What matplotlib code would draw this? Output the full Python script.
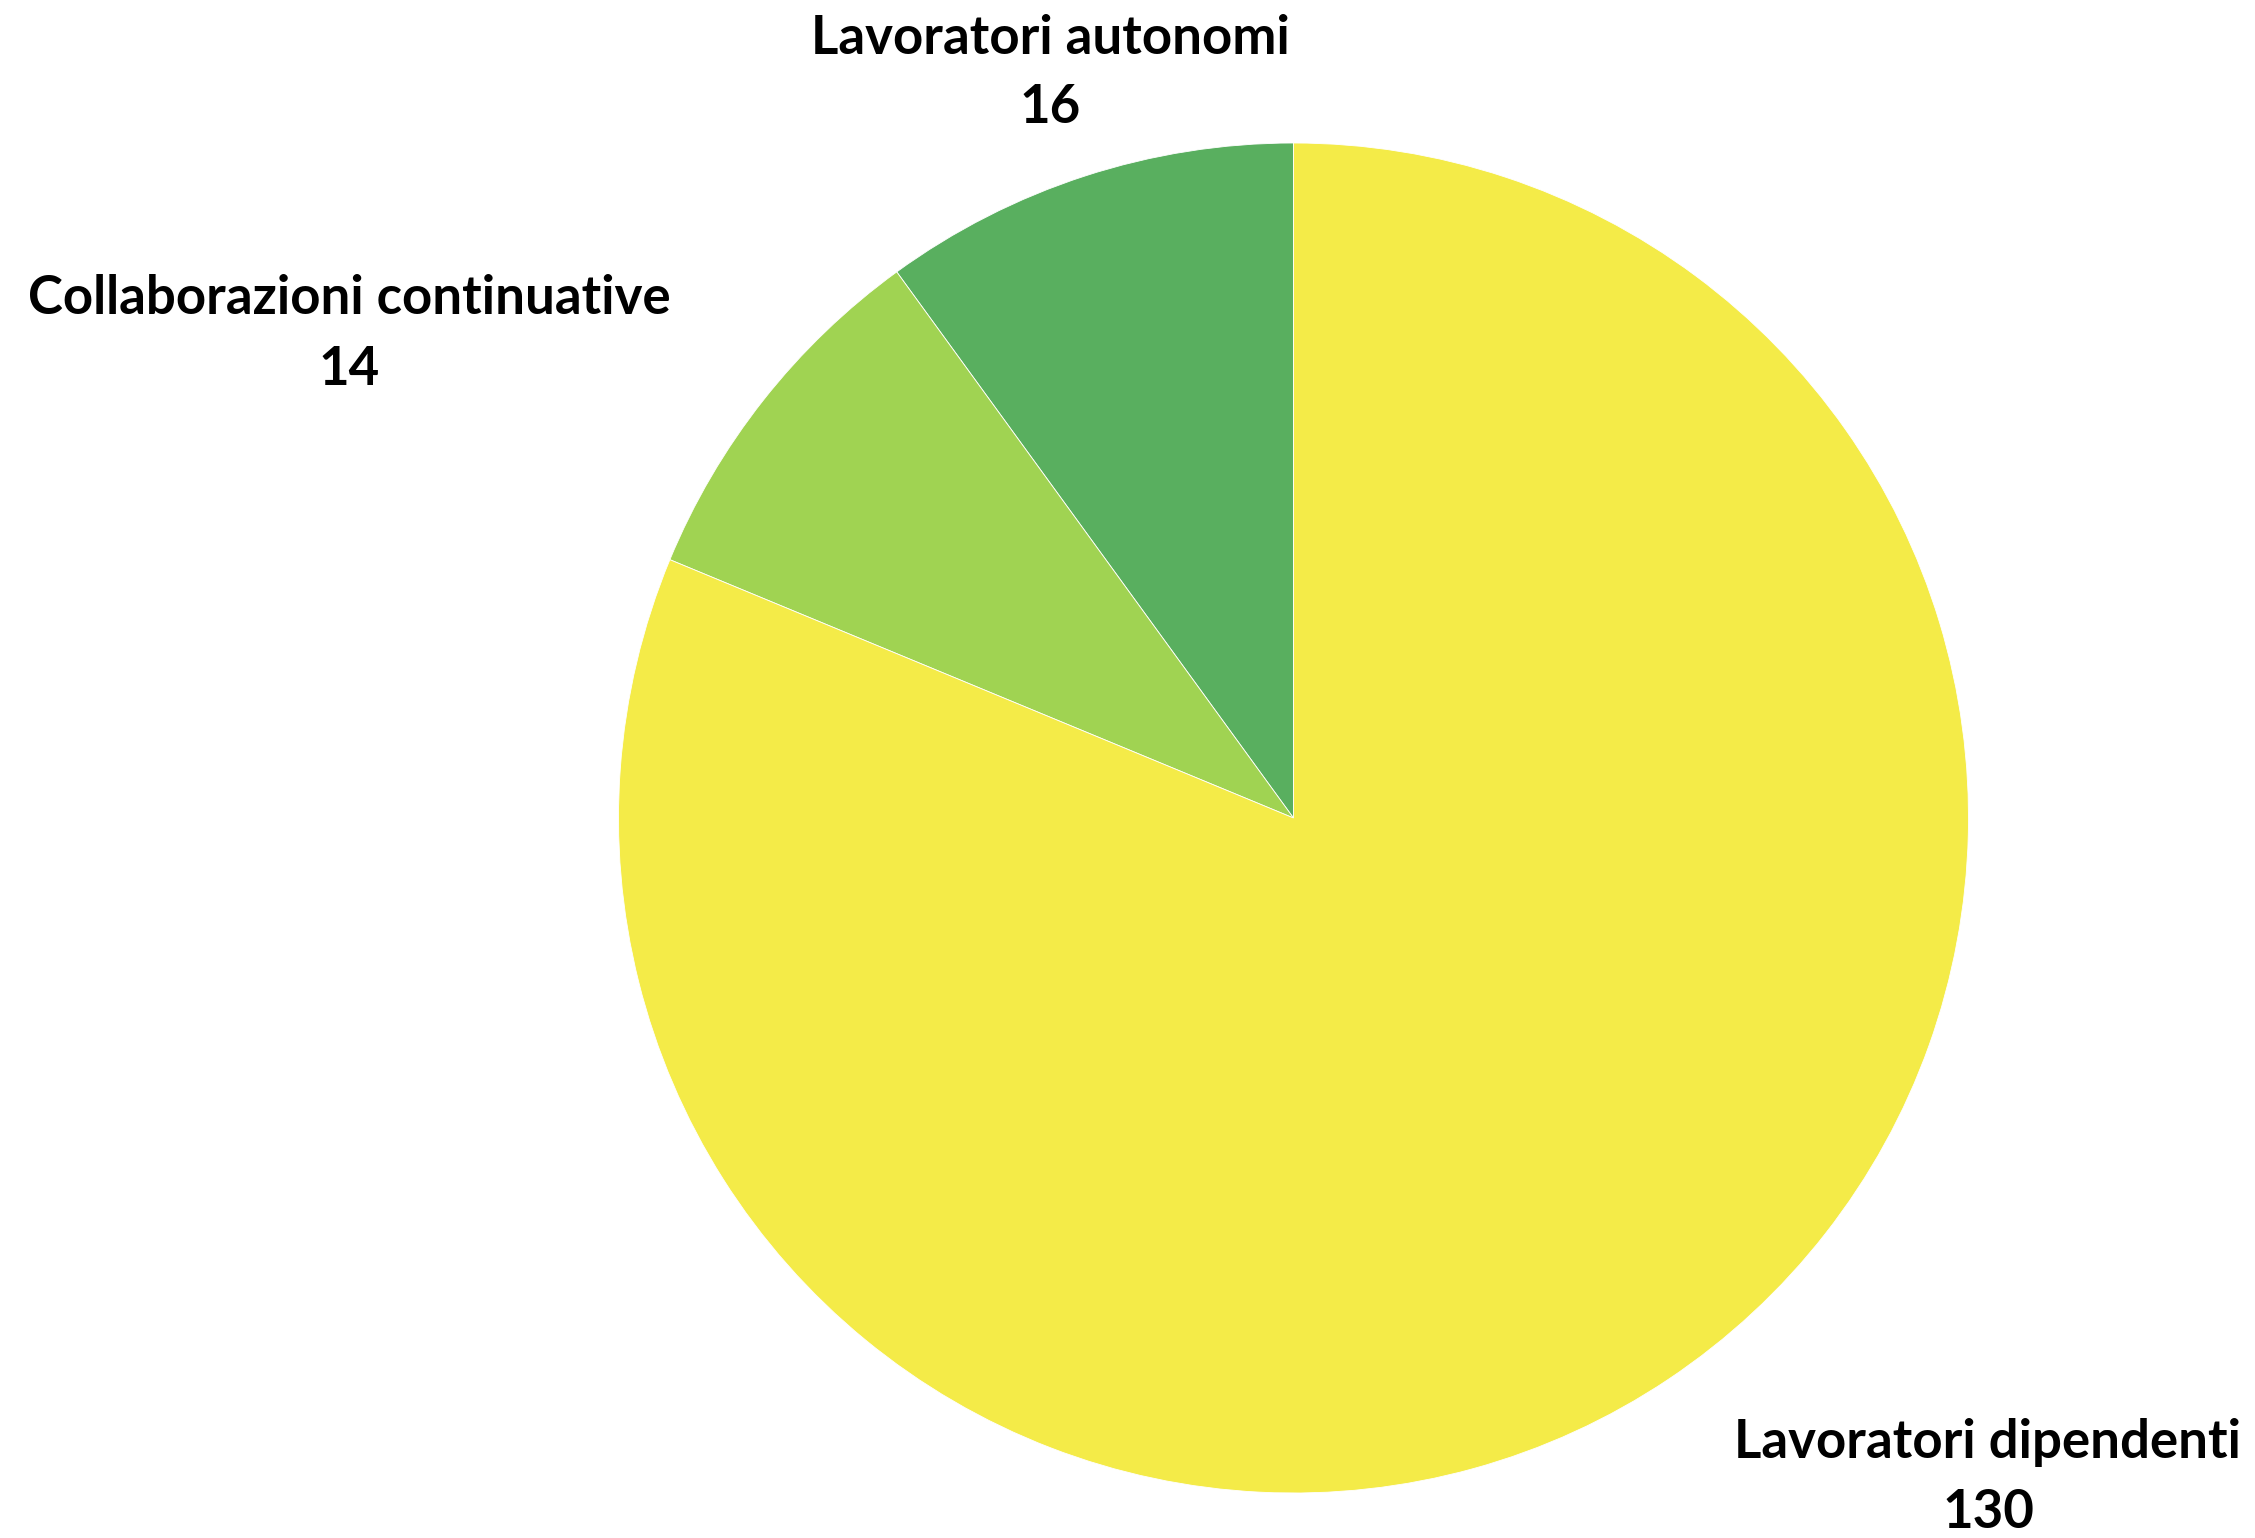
import matplotlib
matplotlib.use("Agg")
import matplotlib.pyplot as plt

categories = ["Lavoratori autonomi", "Collaborazioni continuative", "Lavoratori dipendenti"]
values = [16, 14, 130]
colors = ["#59AF5F", "#A0D352", "#F4EB48"]

W, H = 2255, 1538
fig = plt.figure(figsize=(W / 100, H / 100), dpi=100)
ax = fig.add_axes([0, 0, 1, 1])

ax.pie(values, colors=colors, startangle=90, counterclock=True,
       center=(1293.5, H - 818), radius=675,
       wedgeprops=dict(edgecolor="white", linewidth=0.6), frame=True)
ax.set_xlim(0, W)
ax.set_ylim(0, H)
ax.set_aspect("auto")
ax.axis("off")

# label anchor positions (x centre, baseline of name line, baseline of value line) in image pixels
label_pos = [(1050, 54, 123), (349, 314, 385), (1988, 1458, 1528)]
font = dict(family=["Lato", "DejaVu Sans"], weight="bold", fontsize=38, color="#000000")
for cat, val, (x, y1, y2) in zip(categories, values, label_pos):
    ax.text(x, H - y1, cat, ha="center", va="baseline", **font)
    ax.text(x, H - y2, str(val), ha="center", va="baseline", **font)

fig.savefig("out.png", dpi=100, facecolor="white")
